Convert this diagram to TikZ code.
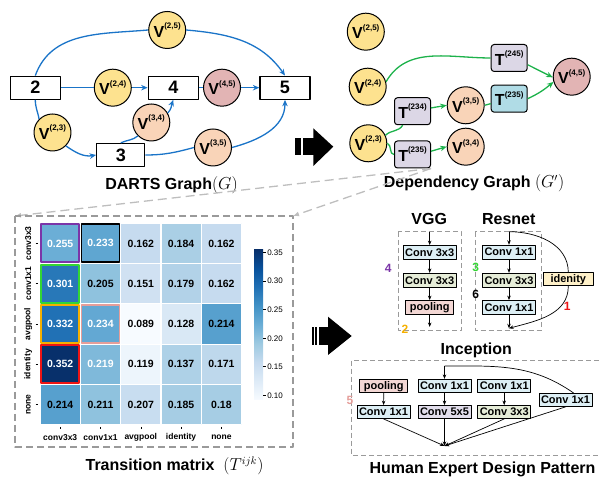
\documentclass[tikz,border=0pt]{standalone}
\usepackage{fontspec}
\setmainfont{Liberation Sans}
\usepackage{tikz}
\usetikzlibrary{arrows.meta,calc}

\definecolor{dartsblue}{HTML}{1A74C8}
\definecolor{depgreen}{HTML}{1DB24B}
\definecolor{vyellow}{HTML}{FDE28F}
\definecolor{vpeach}{HTML}{F9D4B8}
\definecolor{vrose}{HTML}{E2B4B4}
\definecolor{tlilac}{HTML}{DCD7E6}
\definecolor{tcyan}{HTML}{B0DCE6}
\definecolor{convblue}{HTML}{DDEFF5}
\definecolor{convgreen}{HTML}{E6EDD8}
\definecolor{poolpink}{HTML}{F3D7D4}
\definecolor{convlilac}{HTML}{E2DEEC}
\definecolor{idyellow}{HTML}{FFF1C9}
\definecolor{hlpurple}{HTML}{7B35A8}
\definecolor{hlgreen}{HTML}{33D633}
\definecolor{hlorange}{HTML}{F5B000}
\definecolor{hlpink}{HTML}{E59E9A}
\definecolor{hlred}{HTML}{EE1515}
\definecolor{dashgray}{HTML}{BEBEBE}
\definecolor{boxgray}{HTML}{9A9A9A}
% Blues colour scale
\definecolor{b0}{HTML}{F7FBFF}
\definecolor{b1}{HTML}{DEEBF7}
\definecolor{b2}{HTML}{C6DBEF}
\definecolor{b3}{HTML}{9ECAE1}
\definecolor{b4}{HTML}{6BAED6}
\definecolor{b5}{HTML}{4292C6}
\definecolor{b6}{HTML}{2171B5}
\definecolor{b7}{HTML}{08519C}
\definecolor{b8}{HTML}{08306B}
\pgfdeclareverticalshading{bluesbar}{100bp}{color(0bp)=(b0); color(25bp)=(b0);
  color(31.25bp)=(b1); color(37.5bp)=(b2); color(43.75bp)=(b3); color(50bp)=(b4);
  color(56.25bp)=(b5); color(62.5bp)=(b6); color(68.75bp)=(b7); color(75bp)=(b8);
  color(100bp)=(b8)}

\newcommand{\vtxlab}[1]{V\raisebox{0.55em}{\fontsize{8}{8}\selectfont(#1)}}
\newcommand{\trlab}[1]{T\raisebox{0.55em}{\fontsize{8}{8}\selectfont(#1)}}

\begin{document}
\begin{tikzpicture}[x=10pt, y=10pt, >={Stealth[length=6.5pt,width=5.5pt]}, line join=round,
  box/.style={draw, line width=1.3pt, fill=white, minimum width=50pt, minimum height=23pt, inner sep=0pt, font=\fontsize{18}{18}\selectfont\bfseries},
  vtx/.style={circle, draw, line width=1pt, minimum size=37pt, inner sep=0pt, font=\fontsize{16}{16}\selectfont\bfseries},
  tbox/.style={draw, rounded corners=3pt, line width=1pt, minimum width=36pt, minimum height=27pt, inner sep=0pt, font=\fontsize{16}{16}\selectfont\bfseries},
  dartsedge/.style={dartsblue, line width=1.3pt},
  depedge/.style={depgreen, line width=1.3pt},
  ttl/.style={font=\fontsize{16}{16}\selectfont\bfseries},
  cell/.style={draw=white, line width=1.2pt, minimum size=40.3pt, inner sep=0pt, font=\fontsize{10.5}{10.5}\selectfont\bfseries},
  hl/.style={line width=1.8pt, minimum size=38pt},
  axlab/.style={font=\fontsize{8.5}{8.5}\selectfont\bfseries},
  axtick/.style={line width=0.5pt},
  cblab/.style={right, inner sep=1pt, font=\fontsize{8}{8}\selectfont},
  mframe/.style={boxgray, line width=1.2pt, dash pattern=on 7pt off 4pt},
  zoomline/.style={dashgray, line width=1.3pt, dash pattern=on 9pt off 5pt, -{Latex[length=6pt,width=5pt]}},
  pframe/.style={boxgray, line width=0.9pt, dash pattern=on 5pt off 3pt},
  pbox/.style={draw, line width=0.8pt, inner xsep=2pt, inner ysep=0pt, minimum height=14pt, font=\fontsize{11}{11}\selectfont\bfseries},
  pline/.style={line width=0.7pt},
  parr/.style={pline, -{Stealth[length=4.5pt,width=3.5pt]}},
  num/.style={font=\fontsize{12}{12}\selectfont\bfseries}]
  \useasboundingbox (0,0) rectangle (60,47.8);

  % DARTS graph
  \node[box] (b2) at (3.53,39.03) {2};
  \node[box] (b4) at (17.33,39.03) {4};
  \node[box] (b5) at (28.5,39.03) {5};
  \node[box, minimum width=48pt] (b3) at (12.08,32.3) {3};
  \node[vtx, fill=vyellow] (v25) at (16.72,44.8) {\vtxlab{2,5}};
  \node[vtx, fill=vyellow] (v24) at (11.28,39.03) {\vtxlab{2,4}};
  \node[vtx, fill=vrose] (v45) at (22.2,39.03) {\vtxlab{4,5}};
  \node[vtx, fill=vyellow] (v23) at (5.25,34.55) {\vtxlab{2,3}};
  \node[vtx, fill=vpeach] (v34) at (15.13,35.55) {\vtxlab{3,4}};
  \node[vtx, fill=vpeach] (v35) at (21.3,33.05) {\vtxlab{3,5}};
  \draw[dartsedge] (b2.north) to[out=70,in=185] (v25.west);
  \draw[dartsedge,->] (v25.east) to[out=-5,in=125] (b5.north);
  \draw[dartsedge] (b2.east) -- (v24.west);
  \draw[dartsedge,->] (v24.east) -- (b4.west);
  \draw[dartsedge] (b4.east) -- (v45.west);
  \draw[dartsedge,->] (v45.east) -- (b5.west);
  \draw[dartsedge] (b2.south) to[out=-90,in=100] (v23.north west);
  \draw[dartsedge,->] (v23.south east) to[out=-35,in=190] (b3.west);
  \draw[dartsedge] (b3.north) to[out=25,in=220] (v34.south west);
  \draw[dartsedge,->] (v34.30) to[out=45,in=-110] (b4.south);
  \draw[dartsedge] (b3.east) to[out=0,in=195] (v35.west);
  \draw[dartsedge,->] (v35.east) to[out=15,in=-90] (b5.south);
  \node[ttl] (gtitle) at (17.15,29.3) {DARTS Graph$(G)$};

  % arrow to the dependency graph
  \fill (29.5,33.97) rectangle (30.1,32.3);
  \fill (30.3,33.97) rectangle (31.4,32.3);
  \fill (31.33,34.97) -- (33.33,33.13) -- (31.33,31.2) -- cycle;

  % Dependency graph
  \node[vtx, fill=vyellow] (u25) at (36.58,44.63) {\vtxlab{2,5}};
  \node[vtx, fill=vyellow] (u24) at (36.77,39.13) {\vtxlab{2,4}};
  \node[vtx, fill=vyellow] (u23) at (36.83,33.47) {\vtxlab{2,3}};
  \node[tbox, fill=tlilac] (t234) at (41.25,36.68) {\trlab{234}};
  \node[tbox, fill=tlilac] (t235b) at (41.25,32.35) {\trlab{235}};
  \node[vtx, fill=vpeach] (u35) at (46.57,37.27) {\vtxlab{3,5}};
  \node[vtx, fill=vpeach] (u34) at (46.57,33.13) {\vtxlab{3,4}};
  \node[tbox, fill=tlilac] (t245) at (50.92,42.0) {\trlab{245}};
  \node[tbox, fill=tcyan] (t235a) at (50.92,37.93) {\trlab{235}};
  \node[vtx, fill=vrose] (u45) at (57.17,40.13) {\vtxlab{4,5}};
  \draw[depedge] (u24.15) to[out=60,in=180] (t245.west);
  \draw[depedge,->] (t245.-20) -- (u45.182);
  \draw[depedge,->] (t235a.east) to[out=25,in=220] (u45.196);
  \draw[depedge] (u23.25) to[out=45,in=-120] (t234.-125);
  \draw[depedge] (u23.east) to[out=-20,in=180] (t235b.west);
  \draw[depedge,->] (t234.10) -- (u35.west);
  \draw[depedge] (u35.east) -- (t235a.195);
  \draw[depedge,->] (t235b.10) -- (u34.west);
  \node[ttl] (dtitle) at (47.4,29.45) {Dependency Graph $(G')$};

  % zoom onto the transition matrix
  \coordinate (mtl) at (1.5,26.2);
  \coordinate (mtr) at (29.3,26.2);
  \coordinate (mbr) at (29.3,3.1);
  \draw[zoomline] (t235b.south east) -- (mtl);
  \draw[zoomline] (t235b.south east) -- (mtr);
  \draw[mframe] (mtl) rectangle (mbr);

  % heat map
  \node[cell, fill=b2] (m13) at (14.08,23.46) {0.162};
  \node[cell, fill=b3!70!b2] (m14) at (18.11,23.46) {0.184};
  \node[cell, fill=b2] (m15) at (22.14,23.46) {0.162};
  \node[cell, fill=b3!70!b4] (m22) at (10.05,19.43) {0.205};
  \node[cell, fill=b2!60!b1] (m23) at (14.08,19.43) {0.151};
  \node[cell, fill=b3!50!b2] (m24) at (18.11,19.43) {0.179};
  \node[cell, fill=b2] (m25) at (22.14,19.43) {0.162};
  \node[cell, fill=b0] (m33) at (14.08,15.40) {0.089};
  \node[cell, fill=b1!80!b2] (m34) at (18.11,15.40) {0.128};
  \node[cell, fill=b4!50!b5] (m35) at (22.14,15.40) {0.214};
  \node[cell, fill=b3!40!b4, text=white] (m42) at (10.05,11.37) {0.219};
  \node[cell, fill=b1!40!b0] (m43) at (14.08,11.37) {0.119};
  \node[cell, fill=b3!60!b2] (m44) at (18.11,11.37) {0.137};
  \node[cell, fill=b2!80!b3] (m45) at (22.14,11.37) {0.171};
  \node[cell, fill=b4!50!b5] (m51) at (6.02,7.34) {0.214};
  \node[cell, fill=b3!70!b4] (m52) at (10.05,7.34) {0.211};
  \node[cell, fill=b2!90!b1] (m53) at (14.08,7.34) {0.207};
  \node[cell, fill=b3!80!b2] (m54) at (18.11,7.34) {0.185};
  \node[cell, fill=b3!80!b2] (m55) at (22.14,7.34) {0.18};
  \node[cell, hl, fill=b4, draw=hlpurple, text=white] (m11) at (6.02,23.46) {0.255};
  \node[cell, hl, fill=b4!70!b5, draw=black, text=white] (m12) at (10.05,23.46) {0.233};
  \node[cell, hl, fill=b6!80!b5, draw=hlgreen, text=white] (m21) at (6.02,19.43) {0.301};
  \node[cell, hl, fill=b6, draw=hlorange, text=white] (m31) at (6.02,15.40) {0.332};
  \node[cell, hl, fill=b4!80!b5, draw=hlpink, text=white] (m32) at (10.05,15.40) {0.234};
  \node[cell, hl, fill=b8, draw=hlred, text=white] (m41) at (6.02,11.37) {0.352};

  \node[axlab, rotate=90] (r1) at (2.83,23.46) {conv3x3};
  \node[axlab, rotate=90] (r2) at (2.83,19.43) {conv1x1};
  \node[axlab, rotate=90] (r3) at (2.83,15.40) {avgpool};
  \node[axlab, rotate=90] (r4) at (2.83,11.37) {identity};
  \node[axlab, rotate=90] (r5) at (2.83,7.34) {none};
  \draw[axtick] (3.55,23.46) -- (3.8,23.46);
  \draw[axtick] (3.55,19.43) -- (3.8,19.43);
  \draw[axtick] (3.55,15.40) -- (3.8,15.40);
  \draw[axtick] (3.55,11.37) -- (3.8,11.37);
  \draw[axtick] (3.55,7.34) -- (3.8,7.34);
  \node[axlab] (k1) at (6.02,4.07) {conv3x3};
  \node[axlab] (k2) at (10.05,4.07) {conv1x1};
  \node[axlab] (k3) at (14.08,4.07) {avgpool};
  \node[axlab] (k4) at (18.11,4.07) {identity};
  \node[axlab] (k5) at (22.14,4.07) {none};
  \draw[axtick] (6.02,5.1) -- (6.02,4.85);
  \draw[axtick] (10.05,5.1) -- (10.05,4.85);
  \draw[axtick] (14.08,5.1) -- (14.08,4.85);
  \draw[axtick] (18.11,5.1) -- (18.11,4.85);
  \draw[axtick] (22.14,5.1) -- (22.14,4.85);

  % colour bar
  \shade[shading=bluesbar] (25.4,7.8) rectangle (26.3,22.8);
  \draw[axtick] (26.3,22.57) -- ++(0.3,0) node[cblab] (c35) {0.35};
  \draw[axtick] (26.3,19.70) -- ++(0.3,0) node[cblab] (c30) {0.30};
  \draw[axtick] (26.3,16.87) -- ++(0.3,0) node[cblab] (c25) {0.25};
  \draw[axtick] (26.3,13.97) -- ++(0.3,0) node[cblab] (c20) {0.20};
  \draw[axtick] (26.3,11.13) -- ++(0.3,0) node[cblab] (c15) {0.15};
  \draw[axtick] (26.3,8.23) -- ++(0.3,0) node[cblab] (c10) {0.10};
  \node[ttl] (mtitle) at (17.45,1.2) {Transition matrix~~$(T^{ijk})$};

  % arrow to the design patterns
  \fill (31.17,15.13) rectangle (31.35,13.3);
  \fill (31.5,15.13) rectangle (31.7,13.3);
  \fill (31.85,15.13) rectangle (32.9,13.3);
  \fill (32.8,16.13) -- (35.17,14.2) -- (32.8,12.3) -- cycle;

  % VGG
  \node[ttl] (vggt) at (42.92,25.93) {VGG};
  \draw[pframe] (39.83,24.63) rectangle (46.17,14.8);
  \node[pbox, fill=convblue] (vg1) at (42.97,22.55) {Conv 3x3};
  \node[pbox, fill=convgreen] (vg2) at (42.97,19.77) {Conv 3x3};
  \node[pbox, fill=poolpink, minimum width=48pt] (vg3) at (42.97,17.05) {pooling};
  \coordinate (vin) at (42.97,24.63);
  \coordinate (vout) at (42.97,15.1);
  \draw[parr] (vin) -- (vg1);
  \draw[parr] (vg1) -- (vg2);
  \draw[parr] (vg2) -- (vg3);
  \draw[parr] (vg3) -- (vout);
  \node[num, text=hlpurple] (n4) at (38.83,20.97) {4};
  \node[num, text=hlorange] (n2) at (40.5,14.87) {2};

  % Resnet
  \node[ttl] (rest) at (50.88,25.93) {Resnet};
  \draw[pframe] (47.5,24.63) rectangle (54.17,14.8);
  \node[pbox, fill=convblue] (rs1) at (50.9,22.58) {Conv 1x1};
  \node[pbox, fill=convgreen] (rs2) at (50.9,19.77) {Conv 3x3};
  \node[pbox, fill=convblue] (rs3) at (50.9,17.05) {Conv 1x1};
  \node[pbox, fill=idyellow, minimum width=50pt, minimum height=13pt] (idn) at (56.83,19.87) {idenity};
  \coordinate (rin) at (50.9,24.63);
  \coordinate (rout) at (50.9,14.97);
  \draw[parr] (rin) -- (rs1);
  \draw[parr] (rs1) -- (rs2);
  \draw[parr] (rs2) -- (rs3);
  \draw[parr] (rs3) -- (rout);
  \draw[pline] (rin) to[out=0,in=90] (idn.north);
  \draw[parr] (idn.south) to[out=-90,in=15] (rout);
  \node[num, text=hlgreen] (n3) at (47.57,21.07) {3};
  \node[num] (n6) at (47.57,18.37) {6};
  \node[num, text=hlred] (n1) at (56.73,17.13) {1};

  % Inception
  \node[ttl] (inct) at (47.63,12.72) {Inception};
  \draw[pframe] (35.17,11.73) rectangle (60.5,2.3);
  \node[pbox, fill=poolpink, minimum width=48pt, minimum height=13pt] (ip) at (38.38,9.18) {pooling};
  \node[pbox, fill=convblue, minimum height=13pt] (i11) at (38.35,6.6) {Conv 1x1};
  \node[pbox, fill=convblue, minimum height=13pt] (i21) at (44.45,9.22) {Conv 1x1};
  \node[pbox, fill=convlilac, minimum height=13pt] (i55) at (44.45,6.6) {Conv 5x5};
  \node[pbox, fill=convblue, minimum height=13pt] (i31) at (50.42,9.22) {Conv 1x1};
  \node[pbox, fill=convgreen, minimum height=13pt] (i33) at (50.42,6.6) {Conv 3x3};
  \node[pbox, fill=convblue, minimum height=13pt] (i41) at (56.55,7.8) {Conv 1x1};
  \coordinate (iin) at (44.45,11.2);
  \coordinate (iout) at (44.45,3.2);
  \draw[parr] (iin) -- (i21);
  \draw[pline] (iin) to[out=0,in=145] (i41.40);
  \draw[parr] (ip) -- (i11);
  \draw[parr] (i21) -- (i55);
  \draw[parr] (i31) -- (i33);
  \draw[parr] (i11.south) -- (iout);
  \draw[parr] (i55.south) -- (iout);
  \draw[parr] (i33.south) -- (iout);
  \draw[parr] (i41.south) -- (iout);
  \node[num, text=hlpink] (n5) at (35.0,7.8) {5};
  \node[ttl, anchor=base] (htitle) at (48.25,0.4) {Human Expert Design Pattern};
\end{tikzpicture}
\end{document}
